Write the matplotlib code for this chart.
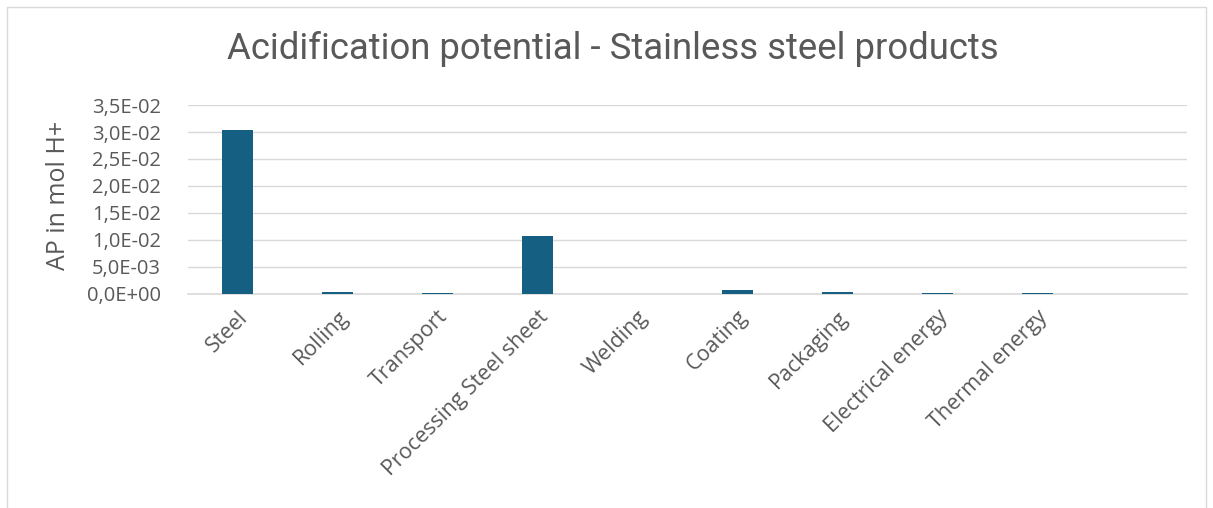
import matplotlib
matplotlib.use("Agg")
import matplotlib.pyplot as plt
from matplotlib.patches import Rectangle
from matplotlib.ticker import FuncFormatter, MultipleLocator

categories = [
    "Steel", "Rolling", "Transport", "Processing Steel sheet", "Welding",
    "Coating", "Packaging", "Electrical energy", "Thermal energy", "",
]
ap_values = [3.04e-02, 4.5e-04, 1.2e-04, 1.07e-02, 0.0,
             7.4e-04, 4.5e-04, 1.5e-04, 1.5e-04, 0.0]

text_grey = "#595959"
grid_grey = "#D9D9D9"
bar_color = "#156082"

plt.rcParams['font.family'] = ['Open Sans', 'DejaVu Sans']

fig = plt.figure(figsize=(12.13, 5.08), dpi=100)
ax = fig.add_axes([0.1546, 0.4213, 0.824, 0.372])

x = list(range(len(categories)))
ax.bar(x, ap_values, width=0.31, color=bar_color, zorder=3)

ax.set_xlim(-0.5, len(categories) - 0.5)
ax.set_ylim(0, 0.035)
ax.yaxis.set_major_locator(MultipleLocator(0.005))
ax.yaxis.set_major_formatter(
    FuncFormatter(lambda v, pos: f"{v:.1E}".replace(".", ",")))

ax.set_xticks(x)
ax.set_xticklabels(categories, rotation=45, ha="right",
                   rotation_mode="anchor", fontsize=15.5, color=text_grey)
ax.tick_params(axis="y", labelsize=14.5, labelcolor=text_grey, length=0, pad=19)
ax.tick_params(axis="x", length=0, pad=9)

ax.grid(axis="y", color=grid_grey, linewidth=1, zorder=0)
for side in ["top", "right", "left"]:
    ax.spines[side].set_visible(False)
ax.spines["bottom"].set_color(grid_grey)
ax.spines["bottom"].set_linewidth(1.2)

ax.set_ylabel("AP in mol H+", fontsize=18, color=text_grey)
ax.yaxis.set_label_coords(-0.117, 0.52)
fig.text(0.505, 0.903, "Acidification potential - Stainless steel products",
         ha="center", va="center", fontsize=26.3, color=text_grey,
         family=["Roboto", "DejaVu Sans"])

# thin frame around the whole chart area
fig.patches.append(Rectangle((0.006, -0.01), 0.988, 0.996, transform=fig.transFigure,
                             fill=False, edgecolor=grid_grey, linewidth=1))

fig.savefig("out.png", dpi=100, facecolor="white")
